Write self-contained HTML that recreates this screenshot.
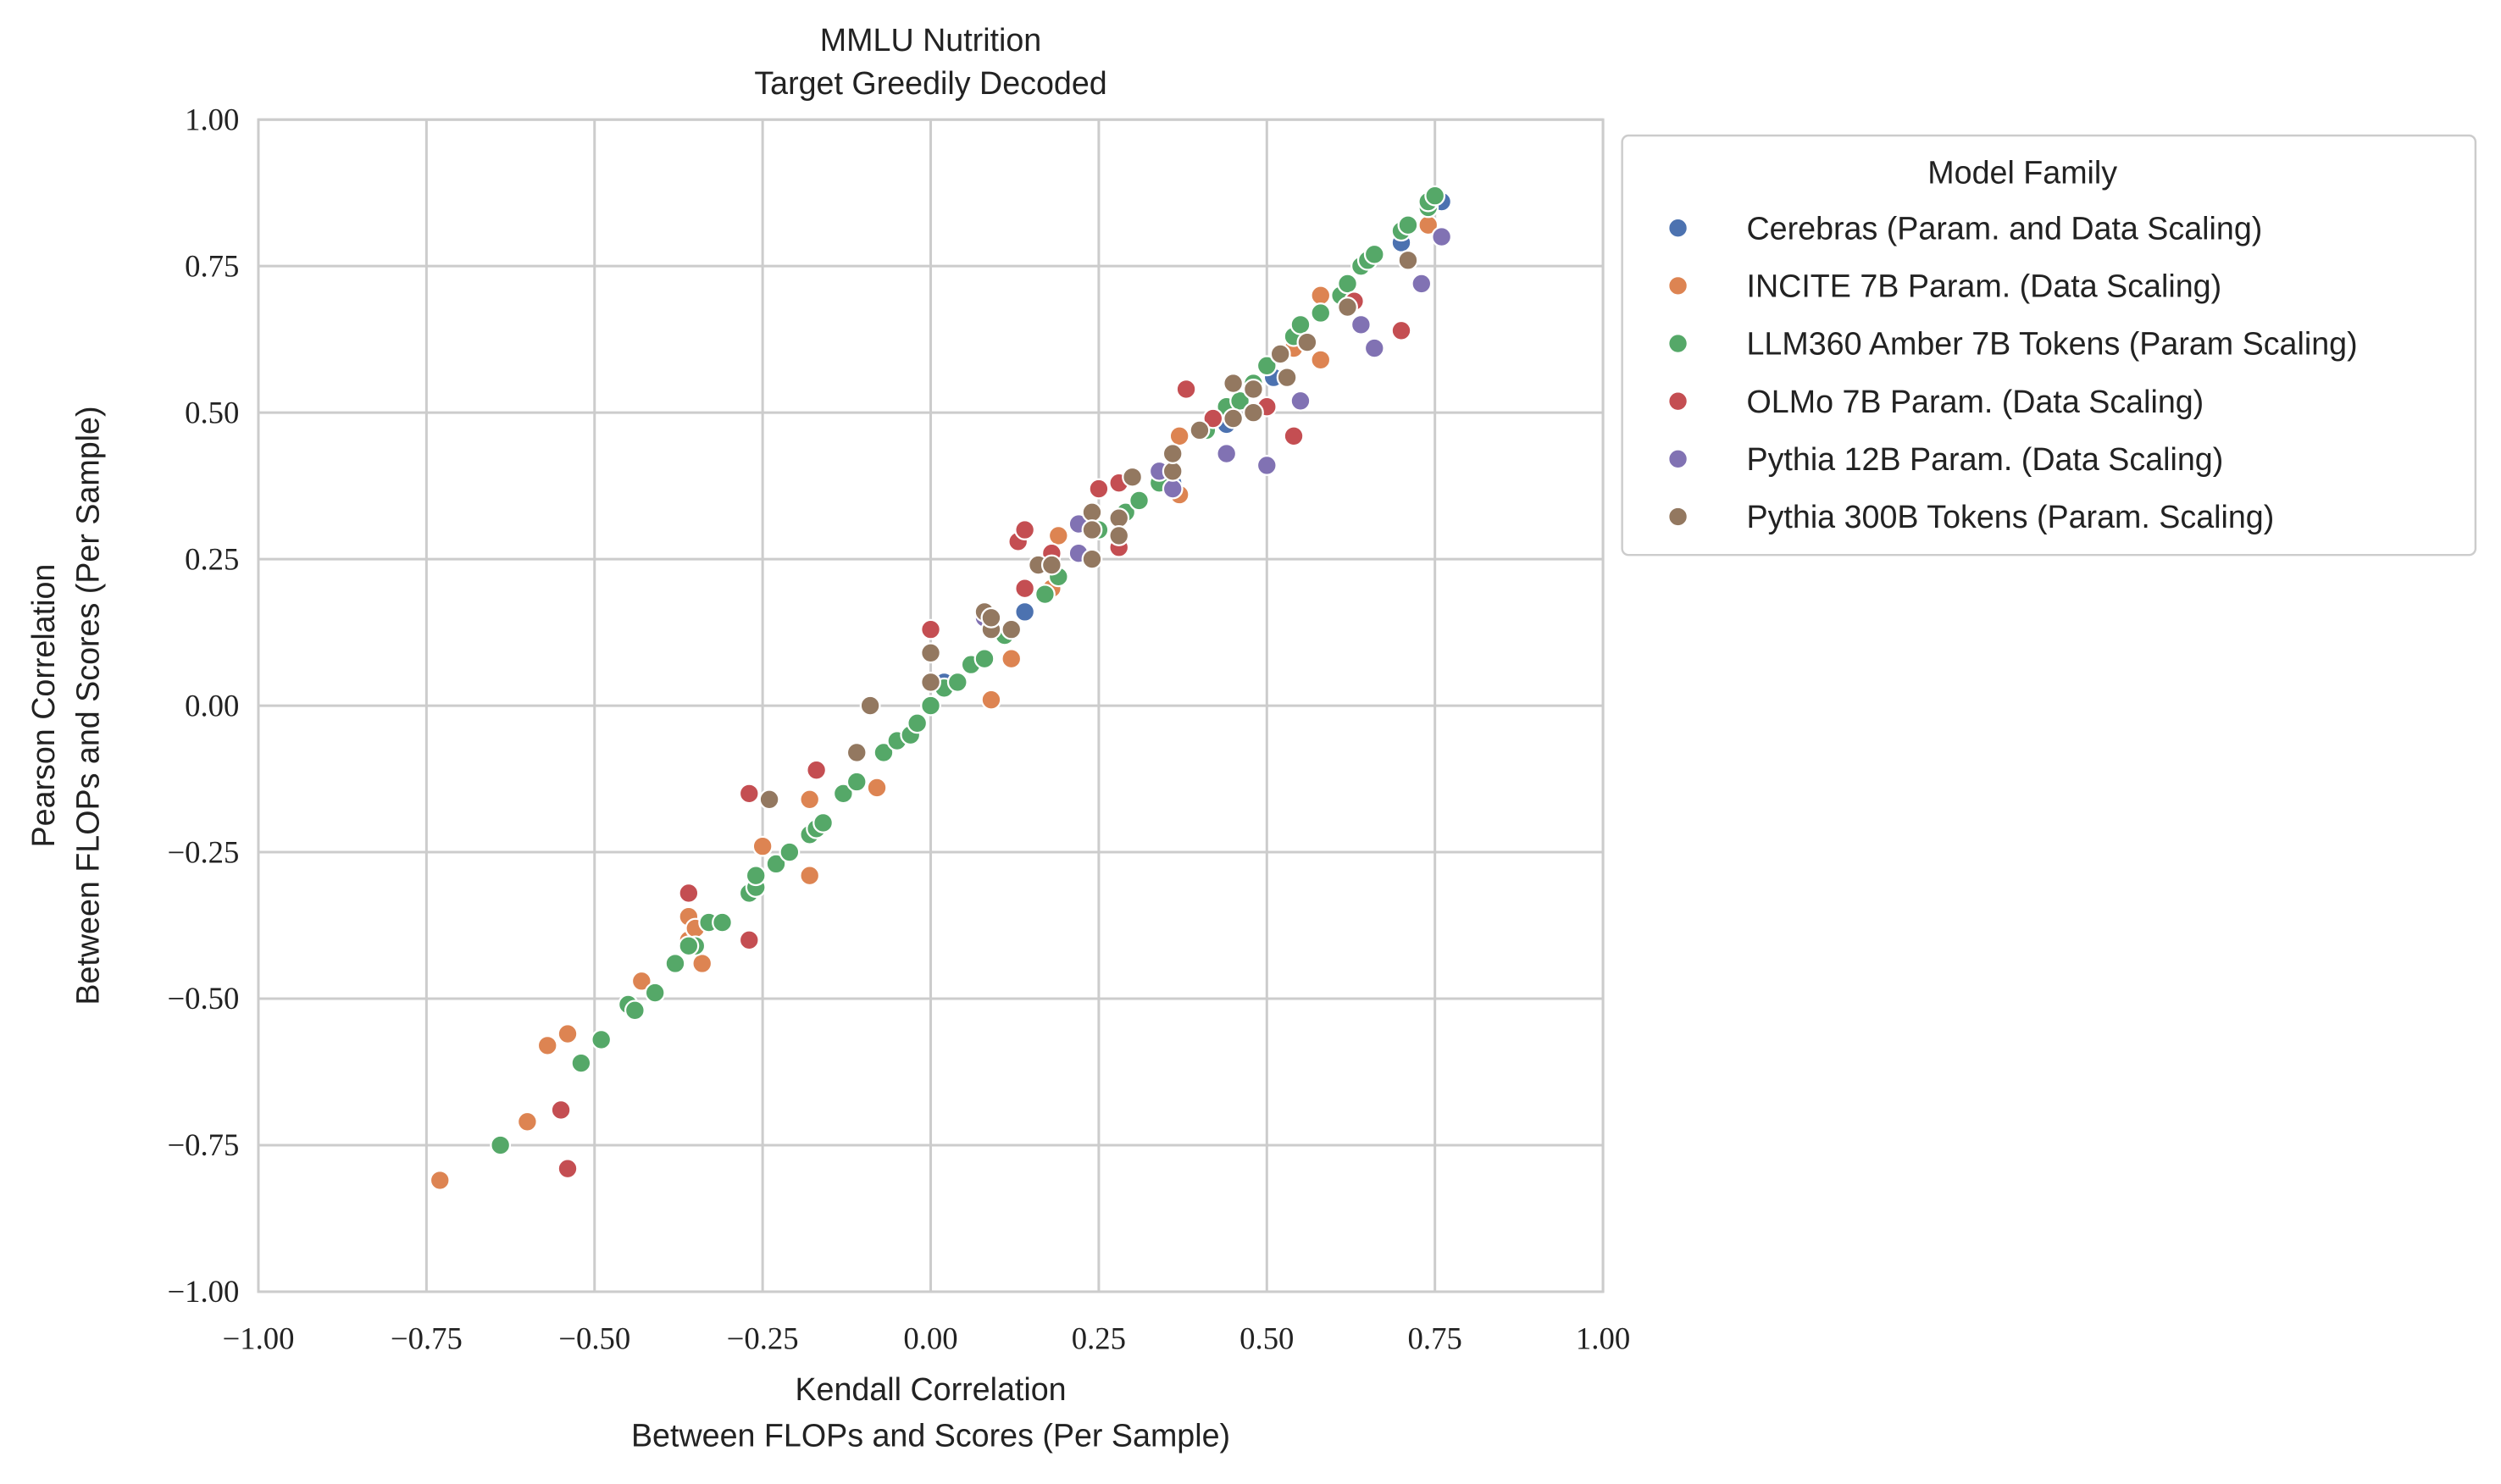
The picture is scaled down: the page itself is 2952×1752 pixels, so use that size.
<!DOCTYPE html>
<html><head><meta charset="utf-8"><style>
html,body{margin:0;padding:0;background:#fff;}
svg{display:block;}
.tick{font-family:"Liberation Serif",serif;font-size:19.5px;fill:#222;}
.lab{font-family:"Liberation Sans",sans-serif;font-size:20px;fill:#222;}
</style></head><body>
<svg id="chart" width="2952" height="1752" viewBox="0 0 1568 930.6" preserveAspectRatio="none" xmlns="http://www.w3.org/2000/svg">
<rect x="0" y="0" width="1568" height="930.6" fill="#fff"/>
<g id="grid"></g>
<rect x="162" y="75" width="843" height="735" fill="none" stroke="#cccccc" stroke-width="1.6"/>
<g id="ticks"></g>
<g id="points"></g>
<text class="lab" x="583.5" y="32" text-anchor="middle">MMLU Nutrition</text>
<text class="lab" x="583.5" y="59" text-anchor="middle">Target Greedily Decoded</text>
<text class="lab" x="583.5" y="878" text-anchor="middle">Kendall Correlation</text>
<text class="lab" x="583.5" y="907" text-anchor="middle">Between FLOPs and Scores (Per Sample)</text>
<text class="lab" transform="translate(34,442.5) rotate(-90)" text-anchor="middle">Pearson Correlation</text>
<text class="lab" transform="translate(62,442.5) rotate(-90)" text-anchor="middle">Between FLOPs and Scores (Per Sample)</text>
<g id="legend">
<rect x="1017" y="85" width="535" height="263" rx="4" fill="#fff" stroke="#cccccc" stroke-width="1.3"/>
<text class="lab" x="1268" y="115" text-anchor="middle">Model Family</text>
</g>
</svg>
<script>
const seriesNames=["Cerebras (Param. and Data Scaling)","INCITE 7B Param. (Data Scaling)","LLM360 Amber 7B Tokens (Param Scaling)","OLMo 7B Param. (Data Scaling)","Pythia 12B Param. (Data Scaling)","Pythia 300B Tokens (Param. Scaling)"];
const seriesColors=["#4c72b0","#dd8452","#55a868","#c44e52","#8172b3","#937860"];
const xTicks=[-1,-0.75,-0.5,-0.25,0,0.25,0.5,0.75,1];
const yTicks=[-1,-0.75,-0.5,-0.25,0,0.25,0.5,0.75,1];
const cerebras=[[0.14,0.16],[0.41,0.47],[0.44,0.48],[0.45,0.49],[0.51,0.56],[0.70,0.79],[0.76,0.86],[-0.11,-0.13],[0.02,0.04],[0.36,0.38]];
const incite=[[-0.73,-0.81],[-0.60,-0.71],[-0.57,-0.58],[-0.54,-0.56],[-0.43,-0.47],[-0.36,-0.36],[-0.36,-0.40],[-0.35,-0.38],[-0.34,-0.44],[-0.25,-0.24],[-0.18,-0.16],[-0.18,-0.29],[-0.08,-0.14],[0.09,0.01],[0.12,0.08],[0.18,0.20],[0.19,0.29],[0.37,0.36],[0.37,0.46],[0.54,0.61],[0.58,0.59],[0.58,0.70],[0.74,0.82]];
const llm360=[[-0.64,-0.75],[-0.52,-0.61],[-0.49,-0.57],[-0.45,-0.51],[-0.44,-0.52],[-0.41,-0.49],[-0.38,-0.44],[-0.35,-0.41],[-0.36,-0.41],[-0.33,-0.37],[-0.31,-0.37],[-0.27,-0.32],[-0.26,-0.31],[-0.26,-0.29],[-0.23,-0.27],[-0.21,-0.25],[-0.18,-0.22],[-0.17,-0.21],[-0.16,-0.20],[-0.13,-0.15],[-0.11,-0.13],[-0.07,-0.08],[-0.05,-0.06],[-0.03,-0.05],[-0.02,-0.03],[0,0],[0.02,0.03],[0.04,0.04],[0.06,0.07],[0.08,0.08],[0.11,0.12],[0.12,0.13],[0.17,0.19],[0.19,0.22],[0.22,0.26],[0.25,0.30],[0.29,0.33],[0.31,0.35],[0.34,0.38],[0.36,0.40],[0.41,0.47],[0.44,0.51],[0.46,0.52],[0.48,0.55],[0.50,0.58],[0.52,0.60],[0.54,0.63],[0.55,0.65],[0.58,0.67],[0.61,0.70],[0.62,0.72],[0.64,0.75],[0.65,0.76],[0.66,0.77],[0.70,0.81],[0.71,0.82],[0.74,0.85],[0.74,0.86],[0.75,0.87]];
const olmo=[[-0.55,-0.69],[-0.54,-0.79],[-0.36,-0.32],[-0.27,-0.15],[-0.27,-0.40],[-0.17,-0.11],[0,0.13],[0.13,0.28],[0.14,0.30],[0.14,0.20],[0.18,0.26],[0.25,0.37],[0.28,0.27],[0.28,0.38],[0.38,0.54],[0.42,0.49],[0.50,0.51],[0.54,0.46],[0.63,0.69],[0.70,0.64]];
const pythia12=[[0.08,0.15],[0.22,0.31],[0.22,0.26],[0.34,0.40],[0.36,0.37],[0.44,0.43],[0.50,0.41],[0.55,0.52],[0.64,0.65],[0.66,0.61],[0.73,0.72],[0.76,0.80]];
const pythia300=[[-0.09,0],[-0.11,-0.08],[-0.24,-0.16],[0,0.04],[0,0.09],[0.08,0.16],[0.09,0.13],[0.09,0.15],[0.12,0.13],[0.16,0.24],[0.18,0.24],[0.24,0.33],[0.24,0.30],[0.24,0.25],[0.28,0.32],[0.28,0.29],[0.30,0.39],[0.36,0.40],[0.36,0.43],[0.40,0.47],[0.45,0.49],[0.45,0.55],[0.48,0.54],[0.48,0.50],[0.52,0.60],[0.53,0.56],[0.62,0.68],[0.71,0.76],[0.56,0.62]];
const allSeries=[cerebras,incite,llm360,olmo,pythia12,pythia300];
const seriesKeys=["cerebras","incite","llm360","olmo","pythia-12b","pythia-300b"];
const NS="http://www.w3.org/2000/svg";
function xs(v){return 162+(v+1)/2*843;}
function ys(v){return 810-(v+1)/2*735;}
function fmt(v){return (v<0?"\u2212":"")+Math.abs(v).toFixed(2);}
const grid=document.getElementById('grid'),ticks=document.getElementById('ticks');
xTicks.forEach(t=>{
  const l=document.createElementNS(NS,'line');
  
  
  l.setAttribute('x1',xs(t));l.setAttribute('x2',xs(t));l.setAttribute('y1',75);l.setAttribute('y2',810);
  l.setAttribute('stroke','#cccccc');l.setAttribute('stroke-width','1.6');grid.appendChild(l);
  const tx=document.createElementNS(NS,'text');
  
  
  tx.setAttribute('class','tick');tx.setAttribute('x',xs(t));tx.setAttribute('y',846);tx.setAttribute('text-anchor','middle');
  tx.textContent=fmt(t);ticks.appendChild(tx);
});
yTicks.forEach(t=>{
  const l=document.createElementNS(NS,'line');
  
  
  l.setAttribute('y1',ys(t));l.setAttribute('y2',ys(t));l.setAttribute('x1',162);l.setAttribute('x2',1005);
  l.setAttribute('stroke','#cccccc');l.setAttribute('stroke-width','1.6');grid.appendChild(l);
  const tx=document.createElementNS(NS,'text');
  
  
  tx.setAttribute('class','tick');tx.setAttribute('x',150);tx.setAttribute('y',ys(t)+6.5);tx.setAttribute('text-anchor','end');
  tx.textContent=fmt(t);ticks.appendChild(tx);
});
const pts=document.getElementById('points');
allSeries.forEach((s,i)=>{
  s.forEach(p=>{
    const c=document.createElementNS(NS,'circle');
    
    
    c.setAttribute('cx',xs(p[0]));c.setAttribute('cy',ys(p[1]));c.setAttribute('r',6);
    c.setAttribute('fill',seriesColors[i]);c.setAttribute('stroke','#fff');c.setAttribute('stroke-width','1.2');
    pts.appendChild(c);
  });
});
const lg=document.getElementById('legend');
seriesNames.forEach((n,i)=>{
  const y=143+i*36.2;
  const g=document.createElementNS(NS,'g');
  
  
  const c=document.createElementNS(NS,'circle');
  c.setAttribute('cx',1052);c.setAttribute('cy',y);c.setAttribute('r',6);
  c.setAttribute('fill',seriesColors[i]);c.setAttribute('stroke','#fff');c.setAttribute('stroke-width','1.2');
  const t=document.createElementNS(NS,'text');
  t.setAttribute('class','lab');t.setAttribute('x',1095);t.setAttribute('y',y+7);
  t.textContent=n;
  g.appendChild(c);g.appendChild(t);lg.appendChild(g);
});
</script>
</body></html>
